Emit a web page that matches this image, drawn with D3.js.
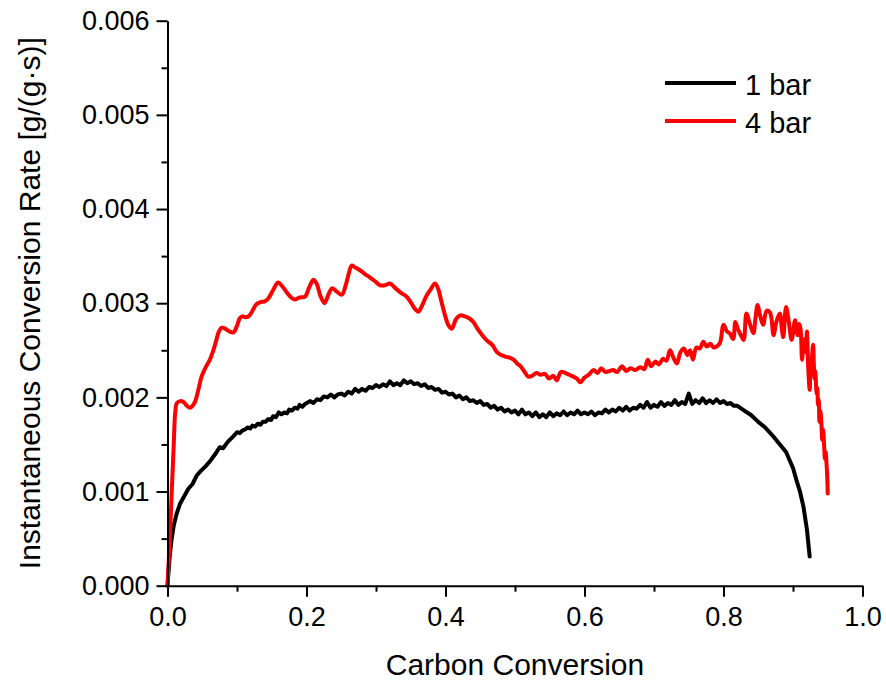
<!DOCTYPE html>
<html>
<head>
<meta charset="utf-8">
<script src="https://cdn.jsdelivr.net/npm/d3@7/dist/d3.min.js"></script>
<style>
  html, body { margin: 0; padding: 0; background: #fff; }
  svg { display: block; font-family: "Liberation Sans", Arial, Helvetica, sans-serif; }
</style>
</head>
<body>
<svg id="chart" width="886" height="680"></svg>
<script>
// Carbon conversion (fraction) and instantaneous conversion rate [g/(g·s)]
const conv1bar = [0,0.003,0.006,0.009,0.013,0.018,0.024,0.03,0.036,0.042,0.048,0.055,0.061,0.068,0.075,0.08,0.087,0.094,
  0.1,0.104,0.108,0.112,0.115,0.119,0.122,0.126,0.13,0.134,0.137,0.141,0.145,0.149,0.152,0.156,0.16,0.164,0.168,0.172,0.175,0.179,0.183,0.187,0.19,0.194,0.198,
  0.205,0.21,0.215,0.22,0.225,0.23,0.235,0.24,0.245,0.25,0.255,0.26,0.265,0.27,0.275,0.28,0.285,0.29,0.295,0.3,
  0.305,0.31,0.315,0.32,0.325,0.33,0.335,0.34,0.345,0.35,0.355,0.36,0.365,0.37,0.375,0.38,0.385,0.39,0.395,0.4,
  0.405,0.41,0.415,0.42,0.425,0.43,0.435,0.44,0.445,0.45,0.455,0.46,0.465,0.47,0.475,0.48,0.485,0.49,0.495,0.5,
  0.505,0.51,0.515,0.52,0.525,0.53,0.535,0.54,0.545,0.55,0.555,0.56,0.565,0.57,0.575,0.58,0.585,0.59,0.595,0.6,
  0.605,0.61,0.615,0.62,0.625,0.63,0.635,0.64,0.645,0.65,0.655,0.66,0.665,0.67,0.675,0.68,0.685,0.69,0.695,0.7,
  0.705,0.71,0.715,0.72,0.725,0.73,0.735,0.74,0.745,0.75,0.755,0.76,0.765,0.77,0.775,0.78,0.785,0.79,0.795,0.8,
  0.805,0.81,0.815,0.82,0.83,0.84,0.85,0.86,0.87,0.88,0.89,0.9,0.905,0.91,0.915,0.92,0.924];
const rate1bar = [0,0.00030,0.00050,0.00064,0.00076,0.00087,0.00095,0.00103,0.00108,0.00117,0.00122,0.00127,0.00132,0.00139,0.00147,0.00146,0.00153,0.00158,
  0.00163,0.00162,0.00165,0.00166,0.00168,0.00167,0.00170,0.00169,0.00172,0.00171,0.00174,0.00174,0.00177,0.00176,0.00180,0.00179,0.00184,0.00182,0.00184,0.00183,0.00187,0.00186,0.00189,0.00188,0.00192,0.00190,0.00193,
  0.00196,0.00194,0.00198,0.00197,0.00201,0.00200,0.00203,0.00200,0.00203,0.00204,0.00202,0.00206,0.00204,0.00209,0.00206,0.00209,0.00207,0.00211,0.00210,0.00213,
  0.00211,0.00214,0.00212,0.00217,0.00213,0.00215,0.00213,0.00218,0.00215,0.00217,0.00214,0.00215,0.00212,0.00214,0.00210,0.00211,0.00208,0.00209,0.00205,0.00206,
  0.00203,0.00204,0.00200,0.00202,0.00198,0.00200,0.00196,0.00197,0.00194,0.00196,0.00192,0.00193,0.00189,0.00191,0.00187,0.00189,0.00185,0.00187,0.00184,0.00186,
  0.00182,0.00187,0.00182,0.00184,0.00180,0.00184,0.00179,0.00182,0.00179,0.00184,0.00180,0.00183,0.00181,0.00185,0.00181,0.00184,0.00182,0.00186,0.00182,0.00184,
  0.00182,0.00185,0.00181,0.00184,0.00183,0.00187,0.00184,0.00187,0.00185,0.00189,0.00186,0.00190,0.00186,0.00189,0.00188,0.00192,0.00189,0.00195,0.00189,0.00192,
  0.00190,0.00195,0.00191,0.00194,0.00192,0.00197,0.00192,0.00195,0.00193,0.00204,0.00193,0.00197,0.00194,0.00199,0.00194,0.00197,0.00194,0.00198,0.00194,0.00196,
  0.00193,0.00194,0.00191,0.00191,0.00186,0.00181,0.00174,0.00168,0.00160,0.00151,0.00142,0.00125,0.00112,0.00100,0.00084,0.00060,0.00031];

const conv4bar = [0,0.003,0.006,0.009,0.011,0.0135,0.018,0.023,0.028,0.032,0.036,0.04,0.045,0.049,0.055,0.061,0.066,0.07,0.074,0.078,0.083,0.089,0.095,0.1,0.104,0.108,0.113,0.118,0.123,0.128,0.133,0.14,0.145,0.152,0.159,0.165,0.172,0.178,0.183,0.19,0.198,0.204,0.21,0.215,0.22,0.226,0.232,0.237,0.244,0.251,0.256,0.261,0.265,0.27,0.277,0.284,0.292,0.299,0.306,0.313,0.32,0.328,0.336,0.344,0.35,0.356,0.361,0.366,0.372,0.378,0.385,0.39,0.394,0.399,0.404,0.409,0.415,0.421,0.428,0.434,0.44,0.447,0.454,0.46,0.467,0.474,0.48,0.487,0.493,0.498,0.503,0.508,0.513,0.519,0.525,0.531,0.537,0.543,0.549,0.555,0.56,0.566,0.572,0.578,0.584,0.589,0.594,0.6,0.606,0.613,0.619,0.624,0.63,0.636,0.641,0.647,0.654,0.66,0.666,0.673,0.68,0.686,0.691,0.696,0.702,0.707,0.713,0.718,0.723,0.728,0.733,0.738,0.743,0.748,0.752,0.756,0.761,0.766,0.771,0.776,0.781,0.786,0.79,0.795,0.8,0.805,0.809,0.814,0.817,0.821,0.825,0.829,0.833,0.838,0.843,0.846,0.849,0.853,0.857,0.862,0.867,0.872,0.876,0.881,0.884,0.886,0.89,0.894,0.898,
  0.903,0.905,0.907,0.909,0.911,0.913,0.915,0.917,0.919,0.92,0.922,0.924,0.925,0.927,0.929,0.93,0.931,0.932,0.934,0.935,0.936,0.937,0.938,0.939,0.94,0.941,0.942,0.943,0.944,0.945,0.946,0.947,0.948,0.949,0.95];
const rate4bar = [0,0.00045,0.00098,0.00150,0.00183,0.00194,0.00196,0.00195,0.00191,0.00189,0.00191,0.00196,0.00210,0.00222,0.00232,0.00240,0.00250,0.00260,0.00270,0.00274,0.00273,0.00270,0.00269,0.00276,0.00284,0.00286,0.00285,0.00287,0.00293,0.00299,0.00301,0.00302,0.00305,0.00314,0.00322,0.00318,0.00311,0.00306,0.00304,0.00306,0.00307,0.00317,0.00325,0.00320,0.00308,0.00300,0.00310,0.00316,0.00312,0.00309,0.00318,0.00332,0.00340,0.00338,0.00335,0.00331,0.00327,0.00323,0.00319,0.00319,0.00321,0.00316,0.00311,0.00307,0.00301,0.00294,0.00291,0.00297,0.00307,0.00314,0.00321,0.00314,0.00302,0.00288,0.00277,0.00273,0.00283,0.00287,0.00286,0.00284,0.00280,0.00272,0.00265,0.00260,0.00256,0.00248,0.00245,0.00243,0.00242,0.00240,0.00236,0.00233,0.00228,0.00222,0.00223,0.00226,0.00224,0.00225,0.00220,0.00223,0.00218,0.00227,0.00226,0.00224,0.00222,0.00220,0.00216,0.00221,0.00224,0.00229,0.00226,0.00231,0.00227,0.00228,0.00229,0.00227,0.00233,0.00228,0.00231,0.00229,0.00232,0.00230,0.00240,0.00233,0.00238,0.00235,0.00241,0.00239,0.00250,0.00242,0.00236,0.00248,0.00252,0.00245,0.00250,0.00240,0.00253,0.00252,0.00259,0.00254,0.00257,0.00253,0.00254,0.00258,0.00277,0.00270,0.00268,0.00262,0.00280,0.00272,0.00266,0.00261,0.00289,0.00278,0.00268,0.00284,0.00298,0.00286,0.00277,0.00292,0.00290,0.00266,0.00280,0.00289,0.00272,0.00264,0.00296,0.00280,0.00261,
  0.00282,0.00270,0.00266,0.00278,0.00272,0.00240,0.00255,0.00262,0.00248,0.00270,0.00230,0.00208,0.00225,0.00240,0.00256,0.00235,0.00220,0.00228,0.00204,0.00210,0.00192,0.00198,0.00174,0.00186,0.00182,0.00170,0.00155,0.00166,0.00160,0.00145,0.00135,0.00142,0.00132,0.00120,0.00098];

const seriesNames = ["1 bar", "4 bar"];
const seriesColors = ["#000000", "#ff0000"];
const xTicks = [0, 0.2, 0.4, 0.6, 0.8, 1.0];
const yTicks = [0, 0.001, 0.002, 0.003, 0.004, 0.005, 0.006];
const xTitle = "Carbon Conversion";
const yTitle = "Instantaneous Conversion Rate [g/(g\u00b7s)]";

const svg = d3.select("#chart");

const x = d3.scaleLinear().domain([0, 1]).range([167.5, 862.5]);
const y = d3.scaleLinear().domain([0, 0.006]).range([585.7, 20.7]);

const series = [
  { name: seriesNames[0], color: seriesColors[0], pts: conv1bar.map((c, i) => [c, rate1bar[i]]), curve: d3.curveLinear },
  { name: seriesNames[1], color: seriesColors[1], pts: conv4bar.map((c, i) => [c, rate4bar[i]]), curve: d3.curveCatmullRom.alpha(0.5) }
];

// data lines
svg.append("g").selectAll("path").data(series).join("path")
  .attr("d", s => d3.line().x(d => x(d[0])).y(d => y(d[1])).curve(s.curve)(s.pts))
  .attr("fill", "none")
  .attr("stroke", s => s.color)
  .attr("stroke-width", 4)
  .attr("stroke-linejoin", "round")
  .attr("stroke-linecap", "round");

// axes: major ticks with labels, minor ticks between
function styleAxis(g) {
  g.select(".domain").attr("stroke", "#000").attr("stroke-width", 2);
  g.selectAll(".tick line").attr("stroke", "#000").attr("stroke-width", 2);
  g.selectAll(".tick text").attr("fill", "#000").attr("font-size", 27)
    .attr("font-family", "'Liberation Sans', Arial, sans-serif");
}

const xMinor = [0.1, 0.3, 0.5, 0.7, 0.9];
const yMinor = [0.0005, 0.0015, 0.0025, 0.0035, 0.0045, 0.0055];

const gx = svg.append("g").attr("transform", `translate(0,${y(0)})`);
gx.call(d3.axisBottom(x).tickValues(xTicks).tickFormat(d3.format(".1f")).tickSize(11).tickSizeOuter(0).tickPadding(10));
styleAxis(gx);
gx.selectAll(".tick text").attr("dy", "0.71em");
const gxm = svg.append("g").attr("transform", `translate(0,${y(0)})`);
gxm.call(d3.axisBottom(x).tickValues(xMinor).tickFormat("").tickSize(6).tickSizeOuter(0));
gxm.select(".domain").remove();
gxm.selectAll(".tick line").attr("stroke", "#000").attr("stroke-width", 2);

const gy = svg.append("g").attr("transform", `translate(${x(0)},0)`);
gy.call(d3.axisLeft(y).tickValues(yTicks).tickFormat(d3.format(".3f")).tickSize(11).tickSizeOuter(0).tickPadding(7));
styleAxis(gy);
const gym = svg.append("g").attr("transform", `translate(${x(0)},0)`);
gym.call(d3.axisLeft(y).tickValues(yMinor).tickFormat("").tickSize(6).tickSizeOuter(0));
gym.select(".domain").remove();
gym.selectAll(".tick line").attr("stroke", "#000").attr("stroke-width", 2);

// axis titles
svg.append("text")
  .attr("x", (x(0) + x(1)) / 2).attr("y", 675)
  .attr("text-anchor", "middle").attr("font-size", 30).attr("fill", "#000")
  .text(xTitle);
svg.append("text")
  .attr("transform", `translate(40,${(y(0) + y(0.006)) / 2}) rotate(-90)`)
  .attr("text-anchor", "middle").attr("font-size", 30).attr("fill", "#000")
  .text(yTitle);

// legend
const legend = svg.append("g");
series.forEach((s, i) => {
  const ly = 83 + i * 38;
  legend.append("line")
    .attr("x1", 665).attr("x2", 736).attr("y1", ly).attr("y2", ly)
    .attr("stroke", s.color).attr("stroke-width", 4);
  legend.append("text")
    .attr("x", 745).attr("y", ly + 12)
    .attr("font-size", 29).attr("fill", "#000")
    .text(s.name);
});
</script>
</body>
</html>
